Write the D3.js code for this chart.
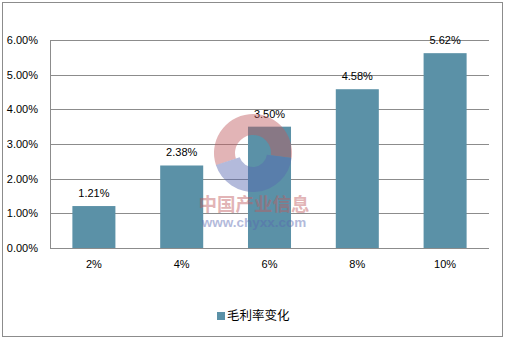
<!DOCTYPE html>
<html lang="zh">
<head>
<meta charset="UTF-8">
<title>毛利率变化</title>
<script src="https://cdnjs.cloudflare.com/ajax/libs/d3/7.8.0/d3.min.js"></script>
<style>
    body { margin: 0; background: #fff; }
    text { font-family: "Liberation Sans", Arial, sans-serif; fill: #000; }
    .cjk { font-family: "Noto Sans CJK SC", sans-serif; }
</style>
</head>
<body>
<svg id="viz" width="506" height="340"></svg>
<script>
    // data
    const categories = ["2%", "4%", "6%", "8%", "10%"];
    const values = [1.21, 2.38, 3.50, 4.58, 5.62];
    const yTicks = [0, 1, 2, 3, 4, 5, 6];
    const seriesName = "毛利率变化";

    const svg = d3.select("#viz");
    const barColor = "#5b91a7";
    const gridColor = "#8c8c8c";

    // outer frame
    svg.append("rect")
        .attr("x", 2.5).attr("y", 2.5)
        .attr("width", 500).attr("height", 334)
        .attr("fill", "#fff")
        .attr("stroke", "#8c8c8c");

    const plotL = 50, plotR = 489, plotT = 40, plotB = 248;

    const x = d3.scaleBand().domain(categories).range([plotL, plotR]).paddingInner(0.51).paddingOuter(0.255);
    const y = d3.scaleLinear().domain([0, 6]).range([plotB, plotT]);

    // gridlines
    svg.append("g").selectAll("line")
        .data(yTicks)
        .join("line")
        .attr("x1", plotL).attr("x2", plotR)
        .attr("y1", d => Math.round(y(d)) + 0.5)
        .attr("y2", d => Math.round(y(d)) + 0.5)
        .attr("stroke", gridColor);

    // y axis line
    svg.append("line")
        .attr("x1", plotL + 0.5).attr("x2", plotL + 0.5)
        .attr("y1", plotT).attr("y2", plotB)
        .attr("stroke", gridColor);

    // y tick labels
    svg.append("g").selectAll("text")
        .data(yTicks)
        .join("text")
        .attr("x", 38)
        .attr("y", d => y(d) + 4)
        .attr("text-anchor", "end")
        .attr("font-size", 11)
        .text(d => d3.format(".2f")(d) + "%");

    // bars
    svg.append("g").selectAll("rect")
        .data(values)
        .join("rect")
        .attr("x", (d, i) => x(categories[i]))
        .attr("width", x.bandwidth())
        .attr("y", d => y(d))
        .attr("height", d => plotB - y(d))
        .attr("fill", barColor);

    // bottom axis line
    svg.append("line")
        .attr("x1", plotL).attr("x2", plotR)
        .attr("y1", plotB + 0.5).attr("y2", plotB + 0.5)
        .attr("stroke", gridColor);

    // value labels
    svg.append("g").selectAll("text")
        .data(values)
        .join("text")
        .attr("x", (d, i) => x(categories[i]) + x.bandwidth() / 2)
        .attr("y", d => y(d) - 9)
        .attr("text-anchor", "middle")
        .attr("font-size", 11)
        .text(d => d3.format(".2f")(d) + "%");

    // watermark, drawn over the bars
    const wm = svg.append("g").attr("opacity", 0.45);
    const arc = d3.arc();
    wm.append("path")
        .attr("transform", "translate(253,153)")
        .attr("d", arc({innerRadius: 18, outerRadius: 39, startAngle: -1.9, endAngle: 1.7}))
        .attr("fill", "#c05a5e");
    wm.append("path")
        .attr("transform", "translate(253,153)")
        .attr("d", arc({innerRadius: 14, outerRadius: 39, startAngle: 1.7, endAngle: 4.4}))
        .attr("fill", "#5868b0");
    wm.append("text")
        .attr("class", "cjk")
        .attr("x", 254).attr("y", 211)
        .attr("text-anchor", "middle")
        .attr("font-size", 18.5).attr("font-weight", "bold")
        .style("fill", "#c05a5e")
        .text("中国产业信息");
    wm.append("text")
        .attr("x", 254).attr("y", 227)
        .attr("text-anchor", "middle")
        .attr("font-size", 13.5).attr("font-weight", "bold")
        .style("fill", "#5868b0")
        .text("www.chyxx.com");

    // category labels
    svg.append("g").selectAll("text")
        .data(categories)
        .join("text")
        .attr("x", d => x(d) + x.bandwidth() / 2)
        .attr("y", 268)
        .attr("text-anchor", "middle")
        .attr("font-size", 11)
        .text(d => d);

    // legend
    svg.append("rect")
        .attr("x", 217).attr("y", 312)
        .attr("width", 8).attr("height", 8)
        .attr("fill", barColor);
    svg.append("text")
        .attr("class", "cjk")
        .attr("x", 227).attr("y", 320)
        .attr("font-size", 12.5)
        .text(seriesName);
</script>
</body>
</html>
